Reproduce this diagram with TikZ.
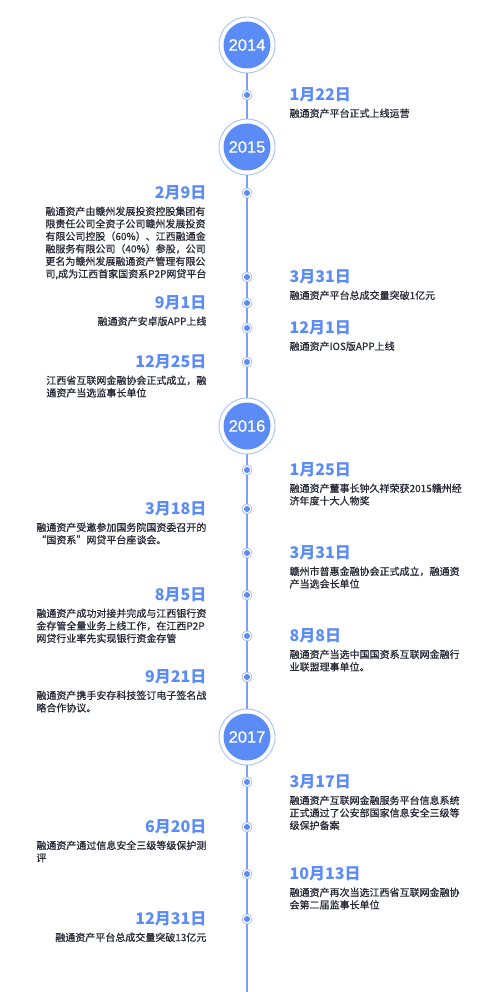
\documentclass[tikz,border=0pt]{standalone}
\usepackage{fontspec}
\newfontfamily\cjk{Noto Sans CJK SC}
\newfontfamily\cjkm{Noto Sans CJK SC}[FakeBold=0.6]
\newfontfamily\yearfont{Liberation Sans}[FakeBold=0.5]
\usetikzlibrary{positioning}
\definecolor{tlblue}{HTML}{5B8BF7}
\definecolor{tlring}{HTML}{A8C1FA}
\definecolor{tlline}{HTML}{7CA1F7}
\definecolor{tltext}{HTML}{262936}

\begin{document}
\begin{tikzpicture}[x=1pt,y=-1pt,
  year/.style={circle,draw=tlring,line width=0.9pt,fill=white,minimum size=56pt,inner sep=0pt,text=white,
    font=\yearfont\fontsize{16.5}{16.5}\selectfont,
    path picture={\fill[tlblue] (path picture bounding box.center) circle (23.5pt);}},
  dot/.style={circle,draw=tlring,line width=0.8pt,fill=white,minimum size=10pt,inner sep=0pt,
    path picture={\fill[tlblue] (path picture bounding box.center) circle (3pt);}},
  axis/.style={draw=tlline,line width=1.2pt},
  date/.style={inner sep=0pt,text=tlblue,font=\cjk\bfseries\fontsize{16}{16}\selectfont},
  desc/.style={inner sep=0pt,align=left,text=tltext,font=\cjkm\fontsize{10}{12.5}\selectfont}]
  \useasboundingbox (0,0) rectangle (500,992);
  \foreach \n/\y in {14/45,15/147,16/426,17/737} \node[year] (y\n) at (247,\y) {20\n};
  \foreach \n/\y in {a/95,b/193,c/277,d/303,e/328,f/362,g/470,h/509,i/553,j/595,k/636,l/677,m/782,n/827,o/874,p/919}
    \node[dot] (\n) at (247,\y) {};
  \coordinate (end) at (247,992);
  \foreach \p/\q in {y14/a,a/y15,y15/b,b/c,c/d,d/e,e/f,f/y16,y16/g,g/h,h/i,i/j,j/k,k/l,l/y17,y17/m,m/n,n/o,o/p,p/end}
    \draw[axis] (\p) -- (\q);
  \foreach \n/\d/\s in {
    a/{1月22日}/{融通资产平台正式上线运营},
    c/{3月31日}/{融通资产平台总成交量突破1亿元},
    e/{12月1日}/{融通资产IOS版APP上线},
    g/{1月25日}/{融通资产董事长钟久祥荣获2015赣州经\\济年度十大人物奖},
    i/{3月31日}/{赣州市普惠金融协会正式成立，融通资\\产当选会长单位},
    k/{8月8日}/{融通资产当选中国国资系互联网金融行\\业联盟理事单位。},
    m/{3月17日}/{融通资产互联网金融服务平台信息系统\\正式通过了公安部国家信息安全三级等\\级保护备案},
    o/{10月13日}/{融通资产再次当选江西省互联网金融协\\会第二届监事长单位}} {
    \node[date,right=37pt of \n] (t\n) {\d};
    \node[desc,below=6pt of t\n.south west,anchor=north west] (s\n) {\s};
  }
  \foreach \n/\d/\s in {
    b/{2月9日}/{融通资产由赣州发展投资控股集团有\\限责任公司全资子公司赣州发展投资\\有限公司控股（60\%）、江西融通金\\融服务有限公司（40\%）参股，公司\\更名为赣州发展融通资产管理有限公\\司,成为江西首家国资系P2P网贷平台},
    d/{9月1日}/{融通资产安卓版APP上线},
    f/{12月25日}/{江西省互联网金融协会正式成立，融\\通资产当选监事长单位},
    h/{3月18日}/{融通资产受邀参加国务院国资委召开的\\“国资系”网贷平台座谈会。},
    j/{8月5日}/{融通资产成功对接并完成与江西银行资\\金存管全量业务上线工作，在江西P2P\\网贷行业率先实现银行资金存管},
    l/{9月21日}/{融通资产携手安存科技签订电子签名战\\略合作协议。},
    n/{6月20日}/{融通资产通过信息安全三级等级保护测\\评},
    p/{12月31日}/{融通资产平台总成交量突破13亿元}} {
    \node[date,left=35pt of \n] (t\n) {\d};
    \node[desc,below=6pt of t\n.south east,anchor=north east] (s\n) {\s};
  }
\end{tikzpicture}
\end{document}
